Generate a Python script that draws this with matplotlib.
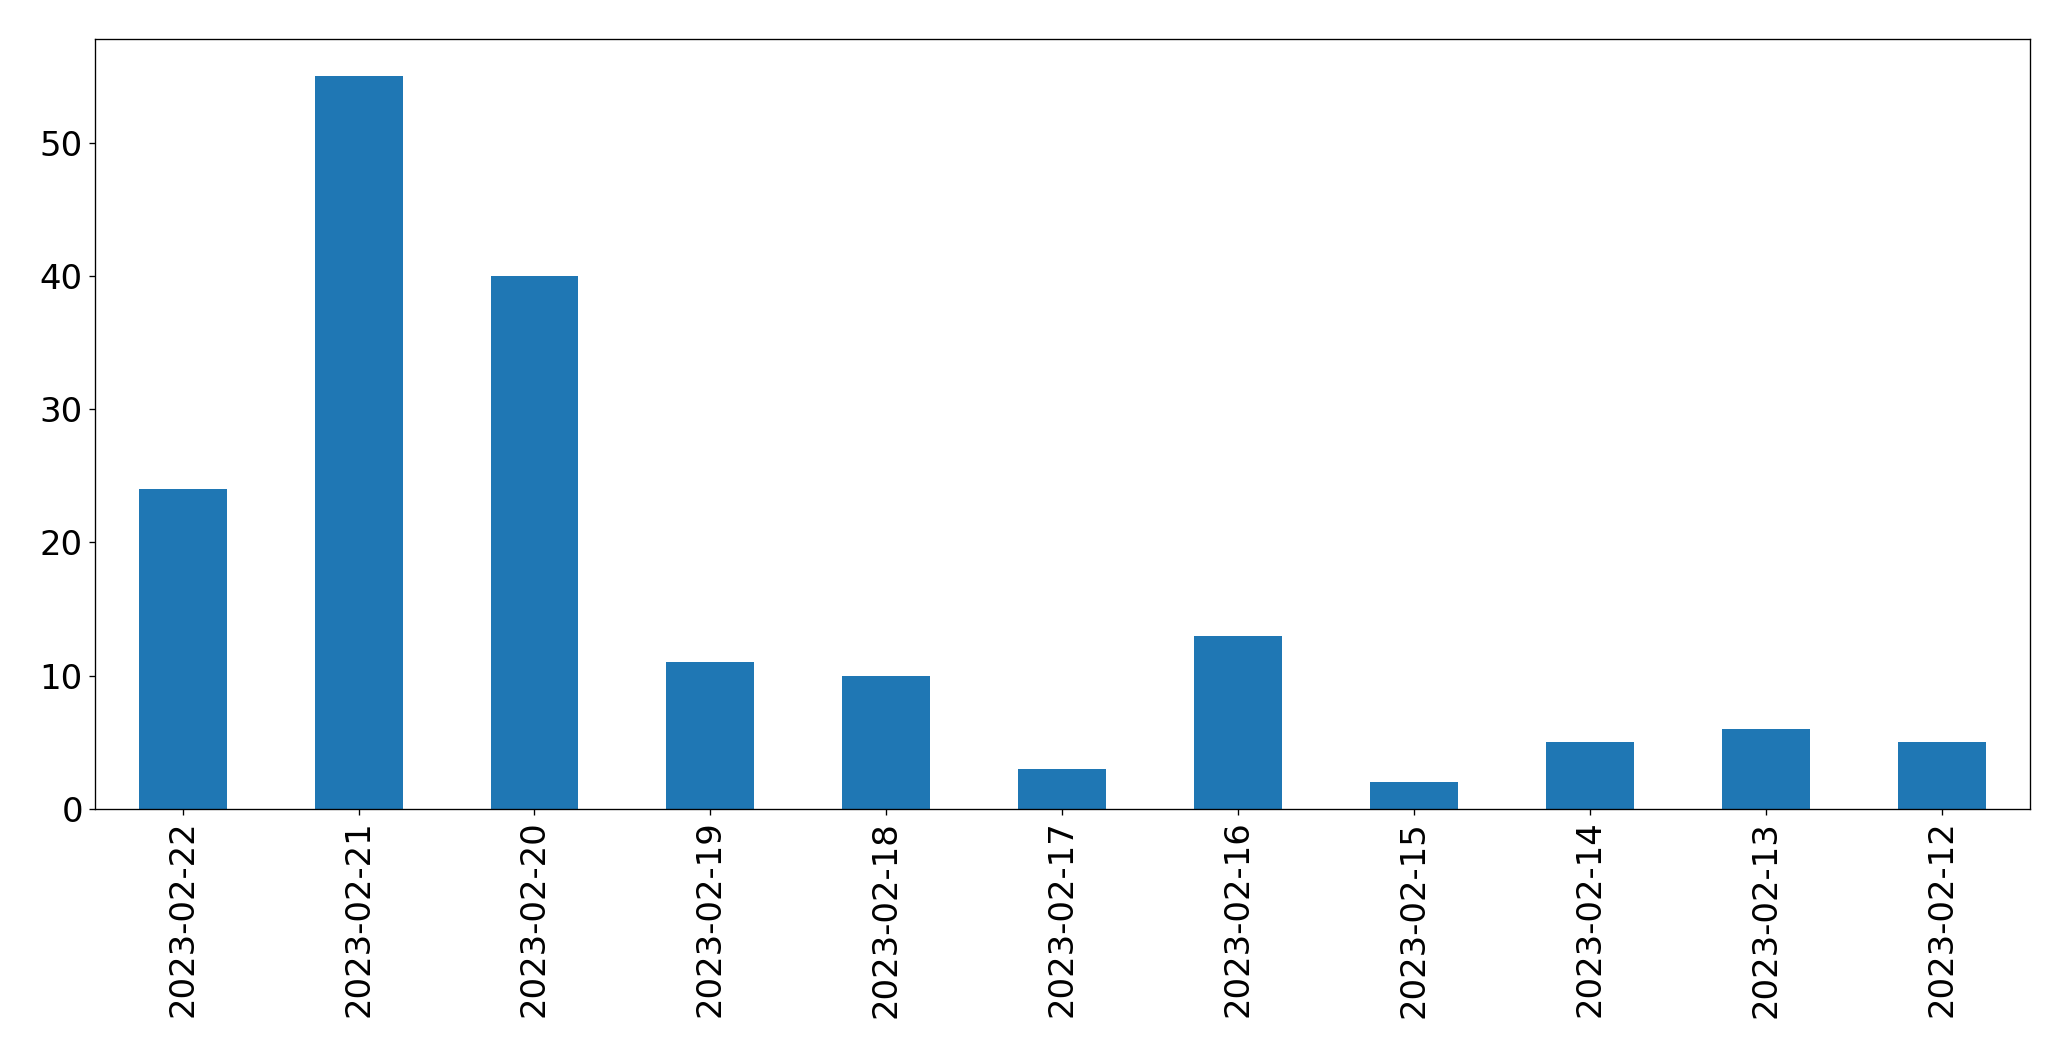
import pandas as pd
import matplotlib
matplotlib.use("Agg")
import matplotlib.pyplot as plt

dates = ["2023-02-22", "2023-02-21", "2023-02-20", "2023-02-19", "2023-02-18",
         "2023-02-17", "2023-02-16", "2023-02-15", "2023-02-14", "2023-02-13",
         "2023-02-12"]
counts = [24, 55, 40, 11, 10, 3, 13, 2, 5, 6, 5]

series = pd.Series(counts, index=dates)

fig = plt.figure(figsize=(2071 / 120, 1061 / 120), dpi=120)
ax = fig.add_axes([0.0457, 0.2375, 0.9345, 0.7255])
series.plot(kind="bar", ax=ax, color="#1f77b4")
ax.tick_params(axis="both", labelsize=20.3)
ax.set_ylim(0, 57.75)

fig.savefig("out.png", dpi=120)
